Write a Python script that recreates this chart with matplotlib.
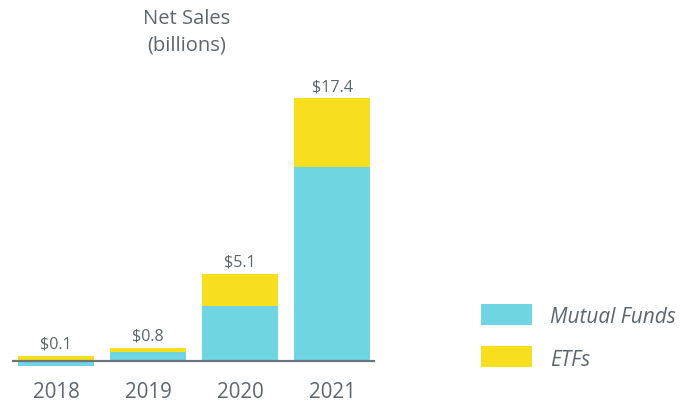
import matplotlib.pyplot as plt
from matplotlib.patches import Rectangle

years = ["2018", "2019", "2020", "2021"]
mutual_funds = [-0.31, 0.6, 3.62, 12.85]
etfs = [0.33, 0.27, 2.15, 4.55]
totals = ["$0.1", "$0.8", "$5.1", "$17.4"]
series = ["Mutual Funds", "ETFs"]

cyan = "#6fd5e3"
yellow = "#f8df1d"
grey = "#5c6670"

plt.rcParams['font.family'] = ['Open Sans', 'DejaVu Sans']

W, H = 681, 402
fig = plt.figure(figsize=(W / 100, H / 100), dpi=100)
ax = fig.add_axes([12 / W, 35 / H, 363 / W, 307 / H])

x = range(len(years))
bottoms = [max(m, 0) for m in mutual_funds]
ax.bar(x, mutual_funds, width=0.826, color=cyan, zorder=2)
ax.bar(x, etfs, width=0.826, bottom=bottoms, color=yellow, zorder=2)
ax.axhline(0, color="#6b737b", lw=1.6, zorder=3)

for i, (b, e, lbl) in enumerate(zip(bottoms, etfs, totals)):
    ax.annotate(lbl, (i, b + e), xytext=(0, 5.8), textcoords="offset points",
                ha="center", va="baseline", fontsize=11.6, color=grey)
    ax.annotate(years[i], (i, 0), xytext=(0, -26.2), textcoords="offset points",
                ha="center", va="baseline", fontsize=14.8, color=grey)

ax.set_xlim(-0.478, 3.467)
ax.set_ylim(-0.331, 20.0)
ax.axis("off")

fig.text(187 / W, 1 - 24 / H, "Net Sales", ha="center", va="baseline",
         fontsize=14.5, color=grey)
fig.text(187 / W, 1 - 50 / H, "(billions)", ha="center", va="baseline",
         fontsize=14.5, color=grey)

# legend drawn by hand to match the boxes
for j, (name, col) in enumerate(zip(series, [cyan, yellow])):
    top = 305 + 42 * j
    fig.patches.append(Rectangle((481 / W, 1 - (top + 21) / H), 51 / W, 21 / H,
                                 facecolor=col, transform=fig.transFigure, figure=fig))
    fig.text(550 / W, 1 - (top + 18.5) / H, name, ha="left", va="baseline",
             fontsize=15, style="italic", color=grey)

fig.savefig("out.png", dpi=100)
